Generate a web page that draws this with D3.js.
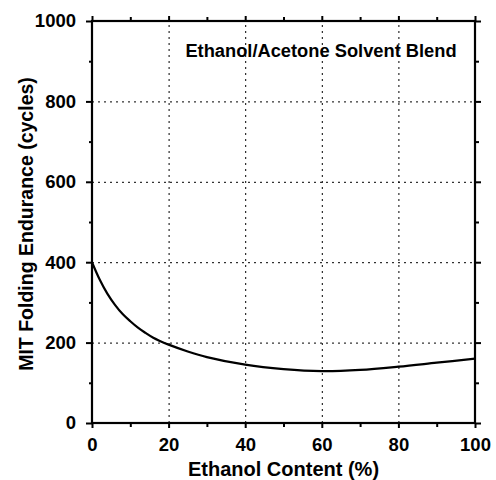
<!DOCTYPE html>
<html><head><meta charset="utf-8">
<script src="https://cdn.jsdelivr.net/npm/d3@7"></script>
<style>body{margin:0;background:#fff}</style>
</head><body>
<svg id="c" width="496" height="480"></svg>
<script>
const ethanol = [0, 2, 4, 6, 8, 10, 12, 14, 16, 18, 20, 25, 30, 40, 50, 60, 70, 80, 90, 100];
const endurance = [400, 357, 322, 294, 271, 253, 237, 224, 212, 203, 195, 178, 164, 145, 134, 129, 132, 140, 150, 160];
const xTicks = [0, 20, 40, 60, 80, 100];
const yTicks = [0, 200, 400, 600, 800, 1000];
const xMinor = [10, 30, 50, 70, 90];
const yMinor = [100, 300, 500, 700, 900];
const xTitle = "Ethanol Content (%)";
const yTitle = "MIT Folding Endurance (cycles)";
const note = "Ethanol/Acetone Solvent Blend";

const svg = d3.select("#c");
const font = "'Liberation Sans', Arial, sans-serif";
const x = d3.scaleLinear().domain([0, 100]).range([92, 475]);
const y = d3.scaleLinear().domain([0, 1000]).range([423, 21]);

// grid
const g = svg.append("g").attr("stroke", "#000").attr("stroke-width", 1).attr("stroke-dasharray", "2,4");
xTicks.filter(d => d > 0 && d < 100).forEach(d => g.append("line").attr("x1", x(d) + 0.5).attr("x2", x(d) + 0.5).attr("y1", y(0)).attr("y2", y(1000)));
yTicks.filter(d => d > 0 && d < 1000).forEach(d => g.append("line").attr("y1", y(d) + 0.5).attr("y2", y(d) + 0.5).attr("x1", x(0)).attr("x2", x(100)));

function styleAxis(sel) {
  sel.select(".domain").remove();
  sel.selectAll(".tick line").attr("stroke", "#000").attr("stroke-width", 2);
  sel.selectAll(".tick text").attr("font-family", font).attr("font-weight", "bold").attr("font-size", 18.5).attr("fill", "#000");
}
// bottom
svg.append("g").attr("transform", `translate(0,${y(0)})`)
  .call(d3.axisBottom(x).tickValues(xTicks).tickSize(5).tickPadding(10).tickFormat(d3.format("d"))).call(styleAxis);
svg.append("g").attr("transform", `translate(0,${y(0)})`)
  .call(d3.axisBottom(x).tickValues(xMinor).tickSize(4).tickFormat("")).call(styleAxis);
// top
svg.append("g").attr("transform", `translate(0,${y(1000)})`)
  .call(d3.axisTop(x).tickValues(xTicks).tickSize(5).tickFormat("")).call(styleAxis);
svg.append("g").attr("transform", `translate(0,${y(1000)})`)
  .call(d3.axisTop(x).tickValues(xMinor).tickSize(4).tickFormat("")).call(styleAxis);
// left
svg.append("g").attr("transform", `translate(${x(0)},0)`)
  .call(d3.axisLeft(y).tickValues(yTicks).tickSize(6).tickPadding(10).tickFormat(d3.format("d"))).call(styleAxis);
svg.append("g").attr("transform", `translate(${x(0)},0)`)
  .call(d3.axisLeft(y).tickValues(yMinor).tickSize(3).tickFormat("")).call(styleAxis);
// right
svg.append("g").attr("transform", `translate(${x(100)},0)`)
  .call(d3.axisRight(y).tickValues(yTicks).tickSize(6).tickFormat("")).call(styleAxis);
svg.append("g").attr("transform", `translate(${x(100)},0)`)
  .call(d3.axisRight(y).tickValues(yMinor).tickSize(4).tickFormat("")).call(styleAxis);

// frame
svg.append("rect").attr("x", x(0)).attr("y", y(1000)).attr("width", x(100) - x(0)).attr("height", y(0) - y(1000))
  .attr("fill", "none").attr("stroke", "#000").attr("stroke-width", 2.2);

// curve
const line = d3.line().x((d, i) => x(ethanol[i])).y(d => y(d)).curve(d3.curveCatmullRom);
svg.append("path").attr("d", line(endurance)).attr("fill", "none").attr("stroke", "#000").attr("stroke-width", 2.2);

// texts
svg.append("text").attr("x", (x(0) + x(100)) / 2).attr("y", 476).attr("text-anchor", "middle")
  .attr("font-family", font).attr("font-weight", "bold").attr("font-size", 20).text(xTitle);
svg.append("text").attr("transform", `translate(33,${(y(0) + y(1000)) / 2 + 2}) rotate(-90)`).attr("text-anchor", "middle")
  .attr("font-family", font).attr("font-weight", "bold").attr("font-size", 19.5).text(yTitle);
svg.append("text").attr("x", 321).attr("y", 57).attr("text-anchor", "middle")
  .attr("font-family", font).attr("font-weight", "bold").attr("font-size", 18.3).text(note);
</script>
</body></html>
